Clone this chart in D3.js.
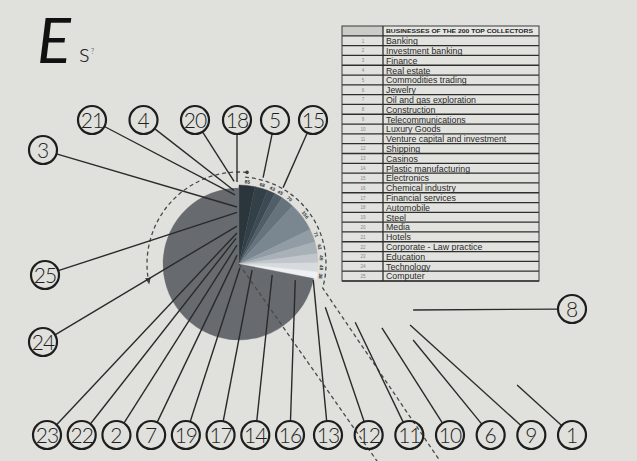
<!DOCTYPE html>
<html><head><meta charset="utf-8">
<script src="https://cdn.jsdelivr.net/npm/d3@7"></script>
<style>html,body{margin:0;padding:0;background:#e0e0dc;} svg{display:block}</style>
</head><body><svg id="chart" width="637" height="461"></svg>
<script>
// ---------------- DATA ----------------
const tableTitle = "BUSINESSES OF THE 200 TOP COLLECTORS";
const industries = ["Banking","Investment banking","Finance","Real estate","Commodities trading","Jewelry",
  "Oil and gas exploration","Construction","Telecommunications","Luxury Goods","Venture capital and investment",
  "Shipping","Casinos","Plastic manufacturing","Electronics","Chemical industry","Financial services",
  "Automobile","Steel","Media","Hotels","Corporate - Law practice","Education","Technology","Computer"];
const industryNumbers = industries.map((d, i) => i + 1);
// small pie slices (clockwise from 12 o'clock) and the remaining large slice
const sliceValues = [85, 68, 43, 45, 70, 156, 71, 62, 49, 49, 38];
const remainderValue = 1887;
// circled-number groups
const topLeftRow = [21, 4, 20];
const topRightRow = [18, 5, 15];
const leftUpper = [3];
const leftLower = [25, 24];
const bottomLeftRow = [23, 22, 2, 7, 19, 17, 14, 16];
const bottomRightRow = [13, 12, 11, 10, 6, 9, 1];
const rightSide = [8];
// pointer of each industry (index = number-1): bearing in degrees clockwise from top, reach in pie radii
const pointerAngle = [113.5, -6, -2, -3.9, 15.6, 113.6, -12, 104.8, 109.6, 114.1, 116.6, 116.6, 102.2,
  108.4, 30, 106, 114.8, -1.4, 166, -3.4, -3.3, -6.6, -3.7, -3, -2.2];
const pointerReach = [3.99, 0.25, 0.75, 0.97, 1.18, 2.5, 0.12, 2.37, 2.39, 2.06, 1.71, 1.27, 1.0,
  0.46, 1.16, 0.77, 0.19, 1.08, 0.05, 1.09, 0.91, 0.34, 0.41, 0.5, 0.68];

// ---------------- LAYOUT ----------------
const W = 637, H = 461;
const svg = d3.select("#chart");
svg.append("rect").attr("width", W).attr("height", H).attr("fill", "#e0e0dc");
const cx = 239, cy = 264, R = 76, Rsmall = 79;
const rScale = d3.scaleLinear().domain([0, 1]).range([0, R]);
const rad = d => d * Math.PI / 180;
const polar = (theta, r) => [cx + r * Math.sin(theta), cy - r * Math.cos(theta)];

// ---------------- TITLE ----------------
svg.append("text").attr("x", 37).attr("y", 63).text("E")
  .attr("font-family", "Lato, 'DejaVu Sans', sans-serif").attr("font-weight", 400)
  .attr("font-style", "italic").attr("font-size", 63).attr("fill", "#111");
svg.append("text").attr("x", 79).attr("y", 62).text("s")
  .attr("font-family", "Lato, 'DejaVu Sans', sans-serif").attr("font-weight", 300)
  .attr("font-size", 25).attr("fill", "#222");
svg.append("text").attr("x", 91).attr("y", 54).text("?")
  .attr("font-family", "Lato, sans-serif").attr("font-size", 7).attr("fill", "#777");

// ---------------- TABLE ----------------
const tX0 = 342, tXd = 383, tX1 = 539;
const rowKeys = ["header"].concat(industryNumbers.map(String));
const yRow = d3.scaleBand().domain(rowKeys).range([26, 281]).padding(0);
const table = svg.append("g");
table.selectAll("rect.row").data(rowKeys).join("rect").attr("class", "row")
  .attr("x", tX0).attr("y", d => yRow(d)).attr("width", tX1 - tX0).attr("height", yRow.bandwidth())
  .attr("fill", d => d === "header" ? "#e6e6e3" : "#e2e2de");
table.append("rect").attr("x", tX0).attr("y", yRow("header")).attr("width", tXd - tX0)
  .attr("height", yRow.bandwidth()).attr("fill", "#cbcbc8");
table.selectAll("line.h").data(rowKeys).join("line").attr("class", "h")
  .attr("x1", tX0).attr("x2", tX1)
  .attr("y1", d => yRow(d) + yRow.bandwidth()).attr("y2", d => yRow(d) + yRow.bandwidth())
  .attr("stroke", "#2e2e2e").attr("stroke-width", 1.3);
table.append("rect").attr("x", tX0).attr("y", 26).attr("width", tX1 - tX0).attr("height", 255)
  .attr("fill", "none").attr("stroke", "#3a3a3a").attr("stroke-width", 1);
table.append("line").attr("x1", tXd).attr("x2", tXd).attr("y1", 26).attr("y2", 281)
  .attr("stroke", "#2e2e2e").attr("stroke-width", 1.3);
table.append("text").attr("x", 386).attr("y", yRow("header") + 7.3).text(tableTitle)
  .attr("font-family", "'Liberation Sans', Arial, sans-serif").attr("font-weight", "bold")
  .attr("font-size", 6).attr("fill", "#222").attr("textLength", 147).attr("lengthAdjust", "spacingAndGlyphs");
table.selectAll("text.num").data(industryNumbers).join("text").attr("class", "num")
  .attr("x", 363).attr("y", d => yRow(String(d)) + 6.8).attr("text-anchor", "middle")
  .text(d => d).attr("font-family", "'Liberation Sans', Arial, sans-serif")
  .attr("font-size", 4.5).attr("fill", "#888");
table.selectAll("text.name").data(industries).join("text").attr("class", "name")
  .attr("x", 386).attr("y", (d, i) => yRow(String(i + 1)) + 8.3).text(d => d)
  .attr("font-family", "'Liberation Sans', Arial, sans-serif").attr("font-size", 8.8).attr("fill", "#2a2a2a");

// ---------------- PIE ----------------
const sliceData = sliceValues.map((v, i) => ({ value: v, kind: "small", i }))
  .concat([{ value: remainderValue, kind: "rest" }]);
const arcs = d3.pie().sort(null).value(d => d.value)(sliceData);
const shade = d3.scaleLinear().domain([0, 2, 5, sliceValues.length - 1])
  .range(["#2a353c", "#3d4a53", "#7a8790", "#eef0f2"]);
const arcGen = d3.arc().innerRadius(0).outerRadius(d => d.data.kind === "rest" ? R : Rsmall);
const pieG = svg.append("g").attr("transform", `translate(${cx},${cy})`);
pieG.selectAll("path").data(arcs).join("path").attr("d", arcGen)
  .attr("fill", d => d.data.kind === "rest" ? "#676b6f" : shade(d.data.i))
  .attr("stroke", d => d.data.kind === "rest" ? "#676b6f" : shade(d.data.i)).attr("stroke-width", 0.4);
// value labels along the rim
pieG.selectAll("text").data(arcs.filter(d => d.data.kind === "small")).join("text")
  .each(function (d) {
    const a = (d.startAngle + d.endAngle) / 2;
    const r = Rsmall + 3.5;
    d3.select(this).attr("transform",
      `translate(${r * Math.sin(a)},${-r * Math.cos(a)}) rotate(${a * 180 / Math.PI})`);
  })
  .attr("text-anchor", "middle").attr("dy", "0.35em").text(d => d.data.value)
  .attr("font-family", "'Liberation Sans', Arial, sans-serif").attr("font-weight", "bold")
  .attr("font-size", 4.8).attr("fill", "#333");

// ---------------- DASHED GUIDES ----------------
const defs = svg.append("defs");
defs.append("marker").attr("id", "arrow").attr("viewBox", "0 0 8 8").attr("refX", 4).attr("refY", 4)
  .attr("markerWidth", 6).attr("markerHeight", 6).attr("orient", "auto")
  .append("path").attr("d", "M0,1 L7,4 L0,7 Z").attr("fill", "#444");
const guides = svg.append("g").attr("fill", "none").attr("stroke", "#4a4a4a")
  .attr("stroke-width", 1.3).attr("stroke-dasharray", "4,3");
const pLeft = d3.path();
pLeft.arc(cx, cy, 92, rad(5) - Math.PI / 2, rad(-101) - Math.PI / 2, true);
guides.append("path").attr("d", pLeft.toString()).attr("marker-end", "url(#arrow)");
const pRight = d3.path();
pRight.arc(cx, cy, 87, rad(4) - Math.PI / 2, rad(106) - Math.PI / 2, false);
const rEnd = polar(rad(134.4), 281);
pRight.lineTo(rEnd[0], rEnd[1]);
guides.append("path").attr("d", pRight.toString());
const cEnd = polar(rad(145), 241);
guides.append("line").attr("x1", cx).attr("y1", cy).attr("x2", cEnd[0]).attr("y2", cEnd[1]);
const dot = polar(rad(5), 92);
svg.append("circle").attr("cx", dot[0]).attr("cy", dot[1]).attr("r", 1.8).attr("fill", "#3a3a3a");

// ---------------- CIRCLED NUMBERS & LEADERS ----------------
const groups = [
  { ids: topLeftRow, x: [92, 195], y: [120, 120] },
  { ids: topRightRow, x: [237, 313], y: [120, 120] },
  { ids: leftUpper, x: [43, 43], y: [150, 150] },
  { ids: leftLower, x: [45, 43], y: [275, 342] },
  { ids: bottomLeftRow, x: [47, 290], y: [435, 435] },
  { ids: bottomRightRow, x: [328, 572], y: [435, 435] },
  { ids: rightSide, x: [572, 572], y: [309, 309] }
];
const labels = [];
groups.forEach(g => {
  const sx = d3.scalePoint().domain(g.ids).range(g.x);
  const sy = d3.scalePoint().domain(g.ids).range(g.y);
  g.ids.forEach(id => labels.push({ id, x: sx(id), y: sy(id) }));
});
const cr = 14;
labels.forEach(l => {
  const t = polar(rad(pointerAngle[l.id - 1]), rScale(pointerReach[l.id - 1]));
  const dx = t[0] - l.x, dy = t[1] - l.y, len = Math.hypot(dx, dy);
  l.x1 = l.x + cr * dx / len; l.y1 = l.y + cr * dy / len; l.x2 = t[0]; l.y2 = t[1];
});
svg.append("g").selectAll("line").data(labels).join("line")
  .attr("x1", d => d.x1).attr("y1", d => d.y1).attr("x2", d => d.x2).attr("y2", d => d.y2)
  .attr("stroke", "#2a2a2a").attr("stroke-width", 1.4);
const lg = svg.append("g").selectAll("g").data(labels).join("g")
  .attr("transform", d => `translate(${d.x},${d.y})`);
lg.append("circle").attr("r", cr).attr("fill", "none").attr("stroke", "#1e1e1e").attr("stroke-width", 2.2);
lg.append("text").text(d => d.id).attr("text-anchor", "middle").attr("dy", "0.36em")
  .attr("font-family", "Lato, 'DejaVu Sans', sans-serif").attr("font-weight", 300)
  .attr("font-size", 21).attr("letter-spacing", d => d.id > 9 ? -1 : 0).attr("fill", "#1e1e1e");
</script></body></html>
